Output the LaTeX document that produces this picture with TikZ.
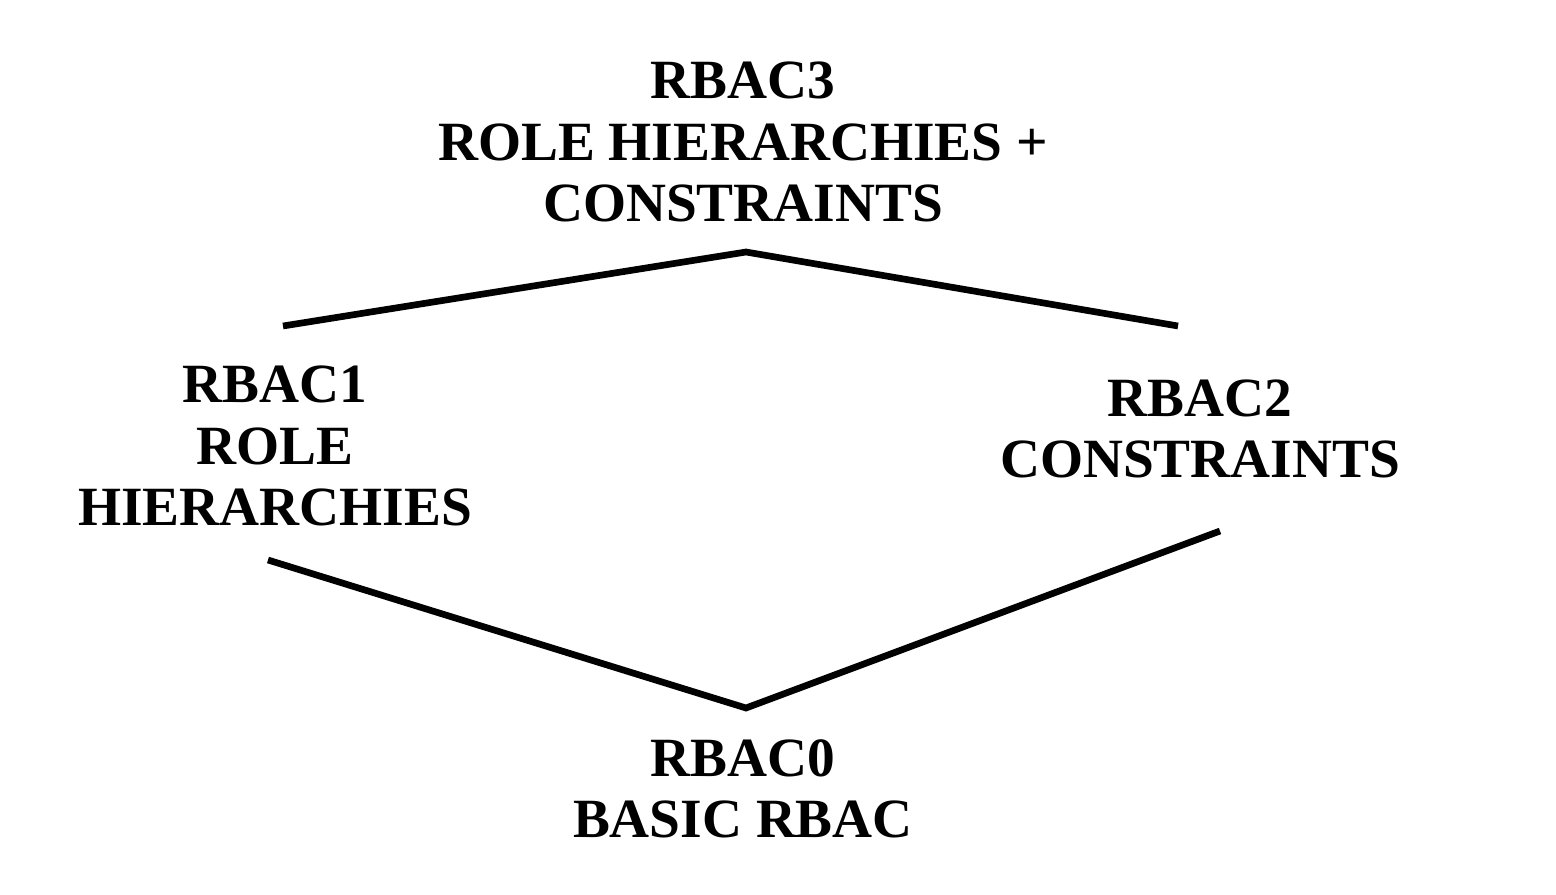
\documentclass[tikz,border=0pt]{standalone}
\usepackage{fontspec}
\setmainfont{Liberation Serif}
\usepackage{tikz}

\begin{document}
\begin{tikzpicture}[every node/.style={font=\bfseries\fontsize{15.75}{17.4}\selectfont, align=center, inner sep=0pt}, line cap=butt]
  \useasboundingbox (0,0) rectangle (15.56,8.94);
  \node (rbacC) at (7.43,7.52) {RBAC3\\ROLE HIERARCHIES +\\CONSTRAINTS};
  \node (rbacA) at (2.75,4.48) {RBAC1\\ROLE\\HIERARCHIES};
  \node (rbacB) at (12.0,4.65) {RBAC2\\CONSTRAINTS};
  \node (rbacO) at (7.43,1.05) {RBAC0\\BASIC RBAC};
  \coordinate (topL) at (2.83,5.68);
  \coordinate (topM) at (7.46,6.42);
  \coordinate (topR) at (11.78,5.68);
  \coordinate (botL) at (2.68,3.34);
  \coordinate (botM) at (7.46,1.86);
  \coordinate (botR) at (12.20,3.63);
  \draw[line width=1.9pt] (topL)--(topM)--(topR);
  \draw[line width=1.9pt] (botL)--(botM)--(botR);
\end{tikzpicture}
\end{document}
